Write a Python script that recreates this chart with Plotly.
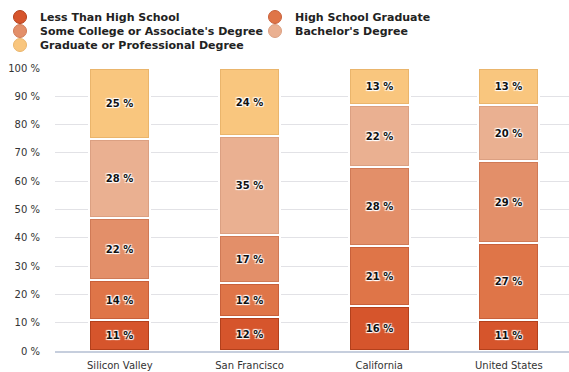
import plotly.graph_objects as go
import numpy as np

regions = ["Silicon Valley", "San Francisco", "California", "United States"]
levels = [
    "Less Than High School",
    "High School Graduate",
    "Some College or Associate's Degree",
    "Bachelor's Degree",
    "Graduate or Professional Degree",
]
less_than_hs = [11, 12, 16, 11]
hs_graduate = [14, 12, 21, 27]
some_college = [22, 17, 28, 29]
bachelors = [28, 35, 22, 20]
graduate = [25, 24, 13, 13]
y_ticks = [0, 10, 20, 30, 40, 50, 60, 70, 80, 90, 100]
y_tick_labels = ["0 %", "10 %", "20 %", "30 %", "40 %", "50 %",
                 "60 %", "70 %", "80 %", "90 %", "100 %"]

series = [less_than_hs, hs_graduate, some_college, bachelors, graduate]
fills = ["#d6552c", "#df7548", "#e38f69", "#eab091", "#f9c67e"]
edges = ["#b3401c", "#c9603a", "#d07a56", "#dba082", "#eab56c"]

W_OUT = 0.47      # outer bar width (category units)
INSET_X = 0.016   # horizontal inset of the coloured face
INSET_Y = 0.7     # vertical inset of the coloured face (value units)

TXT_SHADOW = ("1px 1px 1px #fff, -1px -1px 1px #fff, "
              "1px -1px 1px #fff, -1px 1px 1px #fff")

fig = go.Figure()
base = np.zeros(len(regions))
for name, vals, fill, edge in zip(levels, series, fills, edges):
    v = np.array(vals, dtype=float)
    # outer frame: darker edge with a white seam to neighbours
    fig.add_trace(go.Bar(
        x=regions, y=v, base=base, width=W_OUT,
        marker=dict(color=edge, line=dict(color="#ffffff", width=2)),
        showlegend=False, hoverinfo="skip",
    ))
    # coloured face with value label
    fig.add_trace(go.Bar(
        x=regions, y=v - 2 * INSET_Y, base=base + INSET_Y,
        width=W_OUT - 2 * INSET_X,
        marker=dict(color=fill, line=dict(width=0)),
        customdata=vals,
        texttemplate="%{customdata} %",
        textposition="inside", insidetextanchor="middle",
        textangle=0, constraintext="none",
        textfont=dict(family="DejaVu Sans", size=10, color="#111111",
                      weight="bold", shadow=TXT_SHADOW),
        showlegend=False, name=name,
        hovertemplate="%{x}<br>" + name + ": %{customdata} %<extra></extra>",
    ))
    base = base + v

# legend entries (circle markers), two per row
legend_ids = ["legend", "legend", "legend2", "legend2", "legend3"]
for name, fill, edge, lid in zip(levels, fills, edges, legend_ids):
    fig.add_trace(go.Scatter(
        x=[None], y=[None], mode="markers", name=name, legend=lid,
        marker=dict(symbol="circle", size=13, color=fill,
                    line=dict(color=edge, width=1)),
    ))

leg_common = dict(
    orientation="h", xref="container", yref="container",
    x=-2 / 569, xanchor="left", yanchor="middle",
    entrywidth=210, entrywidthmode="pixels",
    font=dict(family="DejaVu Sans", size=11, color="#222222", weight="bold"),
    bgcolor="rgba(0,0,0,0)", borderwidth=0, itemclick=False,
)

fig.update_layout(
    width=569, height=372,
    margin=dict(l=55, r=0, t=68, b=21, pad=0),
    paper_bgcolor="#ffffff", plot_bgcolor="#ffffff",
    barmode="overlay", bargap=0,
    showlegend=True,
    legend=dict(leg_common, y=1 - 17 / 372),
    legend2=dict(leg_common, y=1 - 31 / 372),
    legend3=dict(leg_common, y=1 - 45 / 372),
    font=dict(family="DejaVu Sans", size=10, color="#333333"),
)
fig.update_xaxes(
    type="category", range=[-0.5, 3.464],
    showgrid=False, zeroline=False,
    showline=True, linecolor="#c6cedd", linewidth=2,
    ticks="", ticklabelstandoff=4,
    tickfont=dict(family="DejaVu Sans", size=10, color="#333333"),
    fixedrange=True,
)
fig.update_yaxes(
    range=[0, 100], tickmode="array", tickvals=y_ticks, ticktext=y_tick_labels,
    showgrid=True, gridcolor="#e2e2e6", gridwidth=1,
    zeroline=False, showline=False, ticks="",
    ticklabelstandoff=14,
    tickfont=dict(family="DejaVu Sans", size=10, color="#333333"),
    fixedrange=True,
)

fig.write_html("out.html", config={"displayModeBar": False})
